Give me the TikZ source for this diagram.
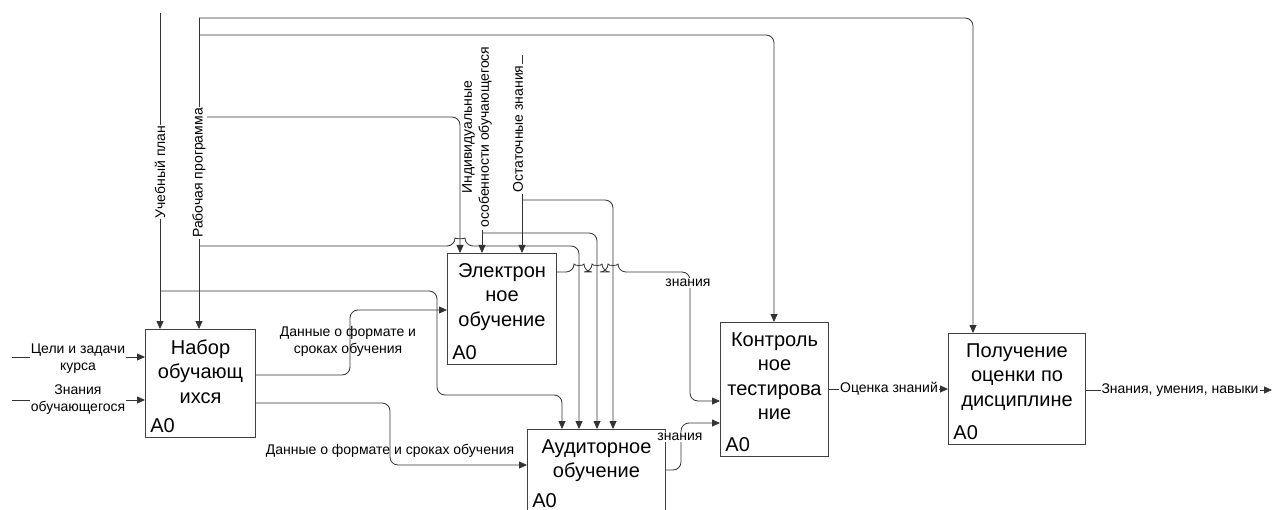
\documentclass[tikz,border=0pt]{standalone}
\usepackage{fontspec}
\setmainfont{Liberation Sans}
\usetikzlibrary{arrows.meta}

\begin{document}
\begin{tikzpicture}[x=1pt,y=-1pt,line width=0.8pt,
    every node/.style={inner sep=1pt},
    blk/.style={draw=black!75,line width=1pt,anchor=north west,inner sep=0pt},
    btxt/.style={anchor=north,align=center,font=\fontsize{20}{24.5}\selectfont},
    idx/.style={anchor=south west,font=\fontsize{20}{24}\selectfont},
    lbl/.style={font=\fontsize{14}{17}\selectfont,align=center},
    wlbl/.style={lbl,fill=white},
    vlbl/.style={lbl,fill=white,rotate=90},
    arr/.style={draw=black!80,-{Triangle[length=8pt,width=7pt]}},
    rc/.style={rounded corners=8pt}]

    \useasboundingbox (0,0) rectangle (1273,510);

    % Blocks: name/x/y/width/height/text
    \foreach \nm/\px/\py/\w/\h/\txt in {
        nabor/145/329/110/108/{Набор\\обучающ\\ихся},
        elektr/447/253/109/111/{Электрон\\ное\\обучение},
        auditor/527/429/138/83/{Аудиторное\\обучение},
        kontrol/720/322/108/134/{Контроль\\ное\\тестирова\\ние},
        ocenka/948/333/137/111/{Получение\\оценки по\\дисциплине}}{
        \node[blk,minimum width=\w pt,minimum height=\h pt] (\nm) at (\px,\py) {};
        \node[btxt] (\nm-t) at ([yshift=-9pt]\nm.north) {\txt};% block name
        \node[idx] (\nm-a) at ([xshift=4pt,yshift=4pt]\nm.south west) {A0};
    }

    % Inputs
    \coordinate (celi) at (12,357);
    \coordinate (znan) at (12,400);
    \draw[arr] (celi) -- (nabor.west |- celi);
    \draw[arr] (znan) -- (nabor.west |- znan);

    % Controls from the top
    \coordinate (uchplan) at (160,13);
    \coordinate (rabprog) at (199,18);
    \coordinate (indiv) at (482,230);
    \coordinate (ostat) at (522,55);
    \draw[arr] (uchplan) -- (nabor.north -| uchplan);
    \draw[arr] (rabprog) -- (nabor.north -| rabprog);
    \draw[arr,rc] (rabprog) -- (973,18) -- (ocenka.north -| 973,0);
    \draw[arr,rc] (199,35) -- (774,35) -- (kontrol.north -| 774,0);
    \draw[arr,rc] (199,117) -- (460,117) -- (elektr.north -| 460,0);
    \draw[arr,rc] (199,246) -- (455,246) .. controls (455,239) and (465,239) .. (465,246)
        -- (579,246) -- (auditor.north -| 579,0);
    \draw[arr,rc] (160,291) -- (437,291) -- (437,395) -- (562,395) -- (auditor.north -| 562,0);
    \draw[arr] (indiv) -- (elektr.north -| indiv);
    \draw[arr,rc] (482,233) -- (597,233) -- (auditor.north -| 597,0);
    \draw[arr] (ostat) -- (elektr.north -| ostat);
    \draw[arr,rc] (522,200) -- (613,200) -- (auditor.north -| 613,0);

    % Outputs
    \draw[arr,rc] (nabor.east |- 0,375) -- (350,375) -- (350,310) -- (elektr.west |- 0,310);
    \draw[arr,rc] (nabor.east |- 0,403) -- (390,403) -- (390,465) -- (auditor.west |- 0,465);
    \draw[arr,rc] (elektr.east |- 0,272)
        \foreach \hx in {579,597,613}{ -- (\hx-5,272) .. controls (\hx-5,266) and (\hx+5,266) .. (\hx+5,272)}
        -- (690,272) -- (690,401) -- (kontrol.west |- 0,401);
    \draw[arr,rc] (auditor.east |- 0,470) -- (681,470) -- (681,423) -- (kontrol.west |- 0,423);
    \draw[arr] (kontrol.east |- 0,389) -- (ocenka.west |- 0,389);
    \coordinate (itog) at (1272,390);
    \draw[arr] (ocenka.east |- itog) -- (itog);

    % Labels
    \node[wlbl] (celi-l) at (78,359) {Цели и задачи\\курса};
    \node[wlbl] (znan-l) at (78,400) {Знания\\обучающегося};
    \node[vlbl] (uchplan-l) at (160,172) {Учебный план};
    \node[vlbl] (rabprog-l) at (199,173) {Рабочая программа};
    \node[vlbl] (indiv-l) at (477,137) {Индивидуальные\\особенности обучающегося};
    \node[vlbl] (ostat-l) at (518,129) {Остаточные знания};
    \node[lbl] (dan1-l) at (348,341) {Данные о формате и\\сроках обучения};
    \node[lbl] (dan2-l) at (390,451) {Данные о формате и сроках обучения};
    \node[wlbl] (zn1-l) at (688,283) {знания};
    \node[wlbl] (zn2-l) at (680,437) {знания};
    \node[wlbl] (ocen-l) at (889,389) {Оценка знаний};
    \node[wlbl] (itog-l) at (1180,390) {Знания, умения, навыки};
\end{tikzpicture}
\end{document}
